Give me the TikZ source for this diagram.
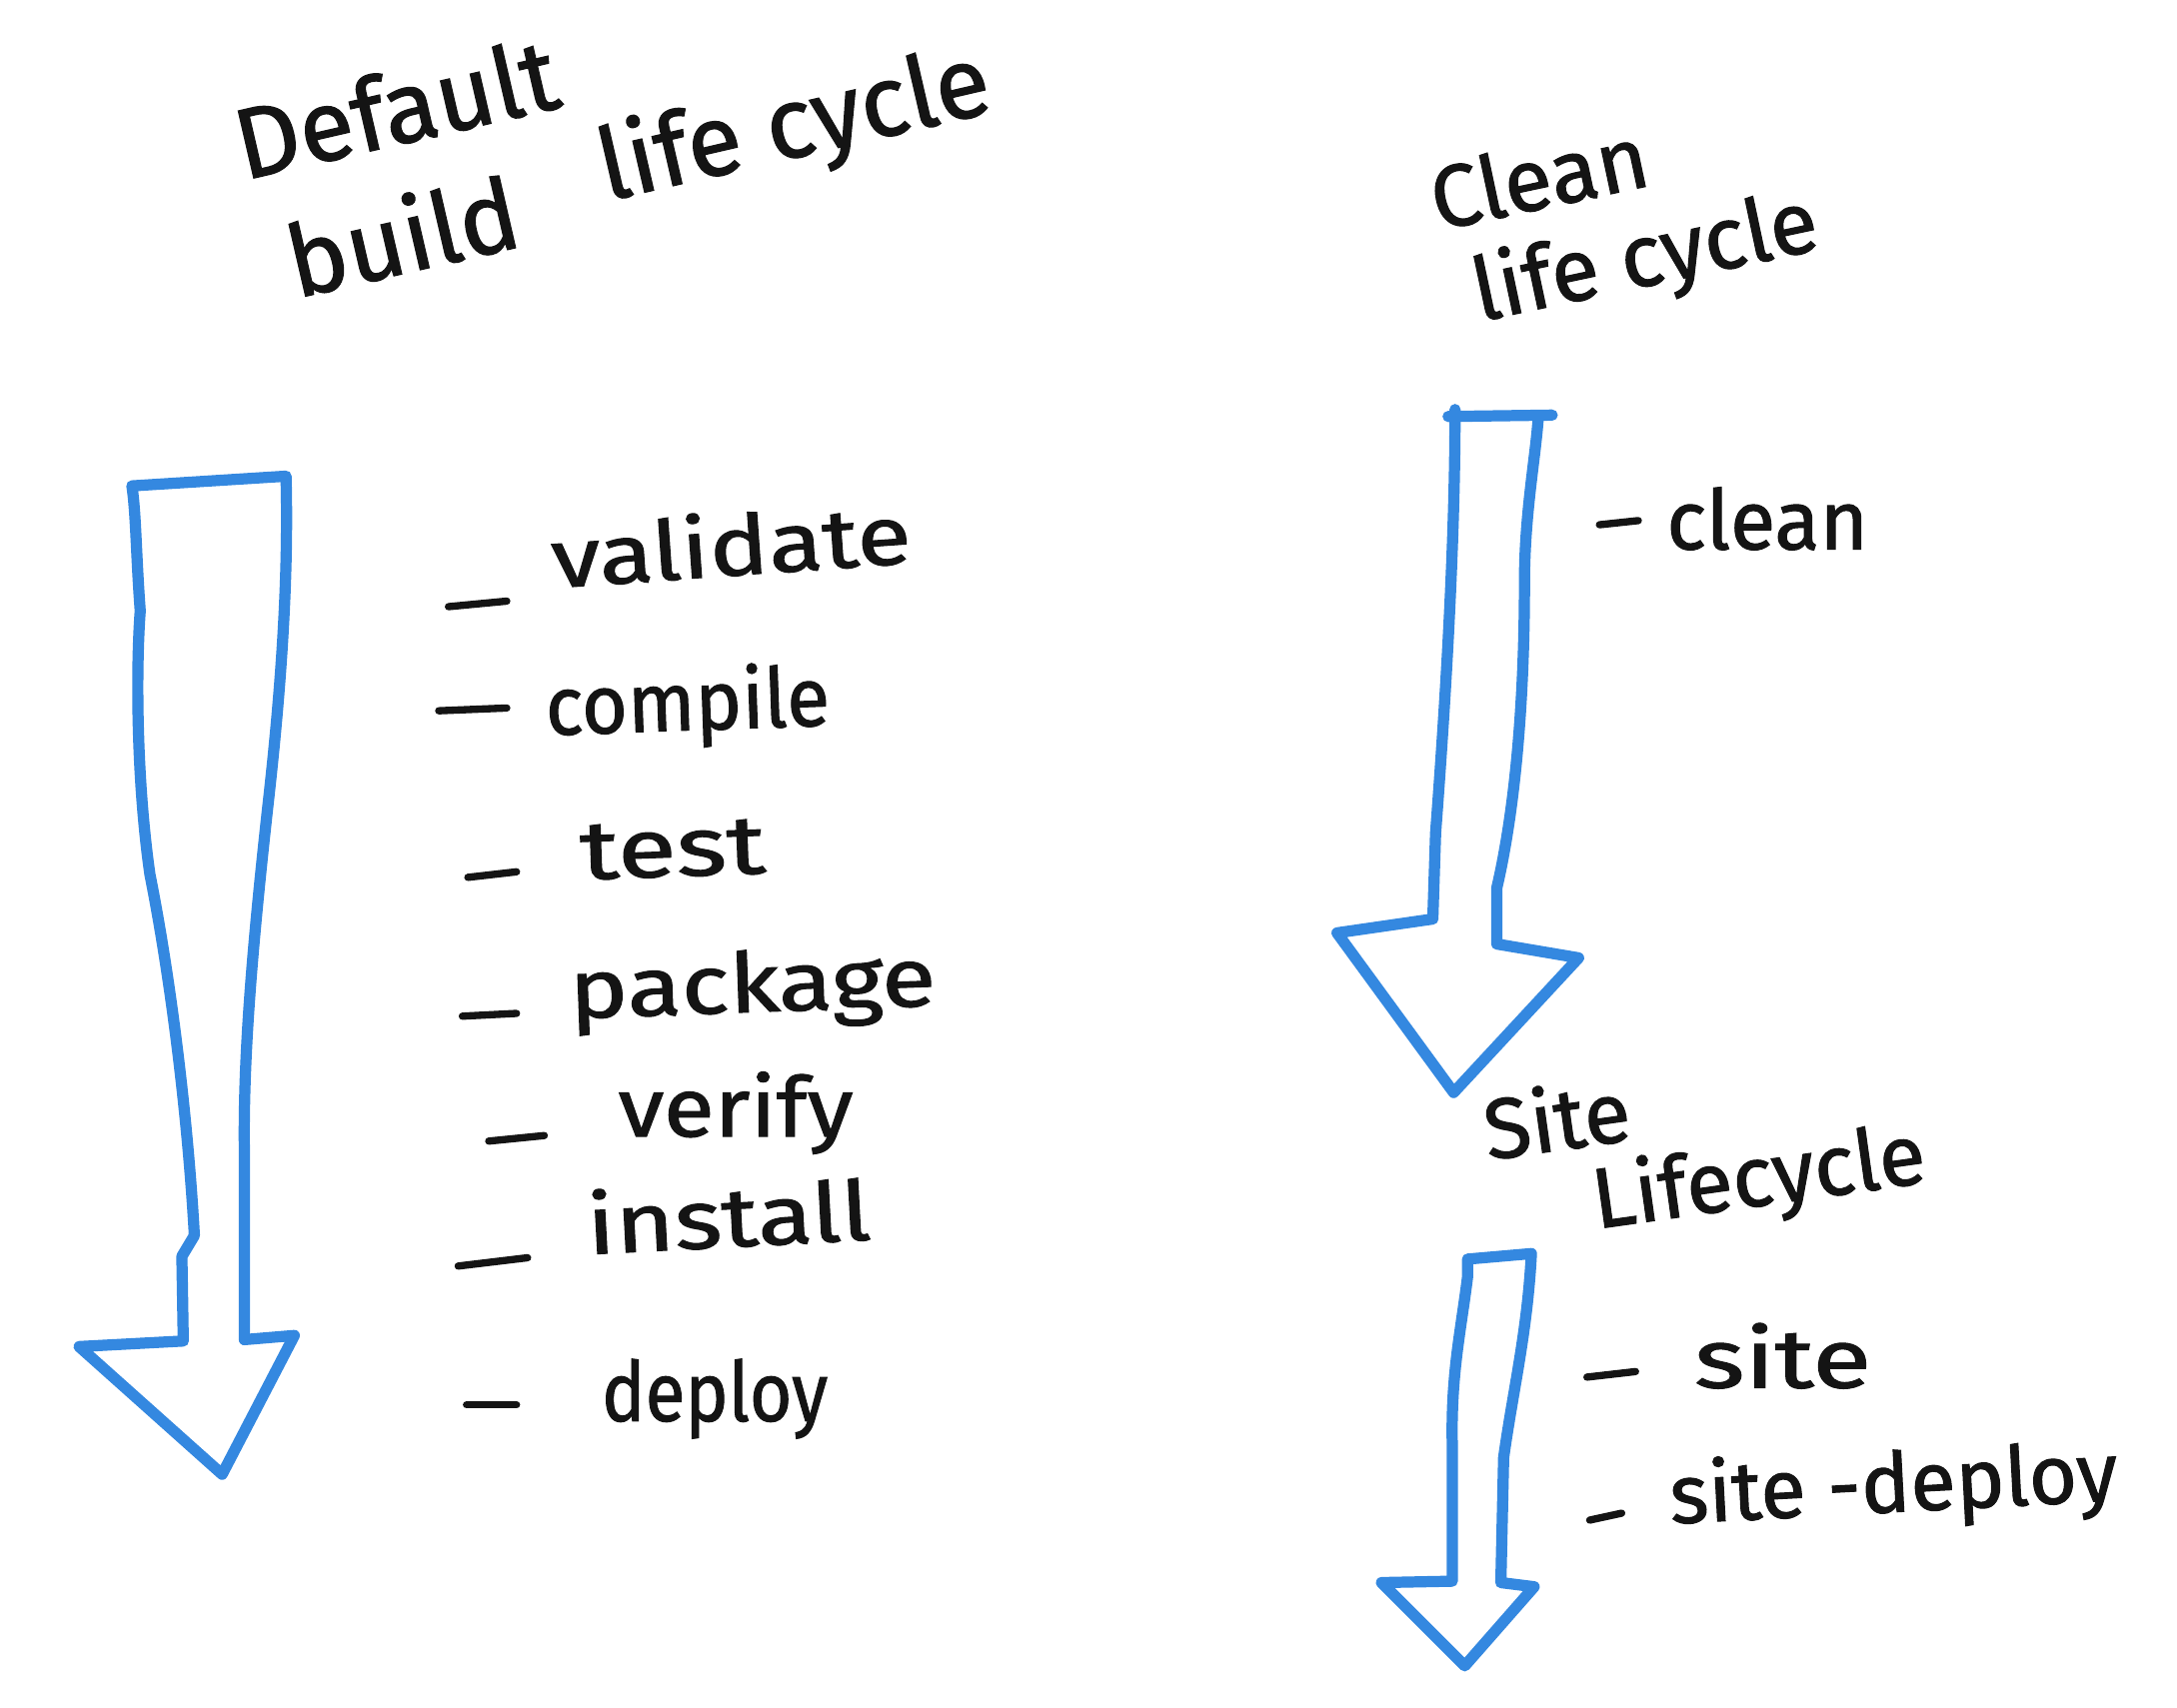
\documentclass[tikz,border=0pt]{standalone}
\usepackage{fontspec}
\usepackage{graphicx}
\setmainfont{Fira Sans}[FakeBold=1.2]
\definecolor{penblue}{RGB}{52,136,224}
\definecolor{ink}{RGB}{20,20,20}
\tikzset{
  arrowline/.style={draw=penblue, line width=4.6pt, line join=round, line cap=round},
  dashline/.style={draw=ink, line width=3pt, line cap=round},
  item/.style={anchor=mid west, inner sep=0pt, text=ink, font=\fontsize{34}{40}\selectfont},
  title/.style={anchor=base west, inner sep=0pt, text=ink, align=left},
}
\newcommand{\hx}[2]{\scalebox{#1}[1]{#2}}
\begin{document}
\begin{tikzpicture}[x=0.02cm, y=-0.02cm]
\useasboundingbox (0,0) rectangle (1568,1230);
\fill[white] (0,0) rectangle (1568,1230);

% ---------- titles (anchor = baseline of last line) ----------
\node[title, rotate=13, font=\fontsize{41}{52}\selectfont] (tDefault) at (196,219)
  {Default\\\hspace*{10pt}build\hspace{0.9em}\raisebox{0.25em}{life cycle}};
\node[title, rotate=12, font=\fontsize{36}{40}\selectfont] (tClean) at (1050,235)
  {Clean\\\hspace*{9pt}life cycle};
\node[title, rotate=8, font=\fontsize{35}{34}\selectfont] (tSite) at (1080,895)
  {Site\\\hspace*{40pt}Lifecycle};

% ---------- left (default) arrow ----------
\draw[arrowline] (95,350) -- (206,343)
  .. controls (208,420) and (202,500) .. (193,580)
  .. controls (182,680) and (175,760) .. (176,830)
  -- (176,965) -- (212,962) -- (160,1062) -- (57,970) -- (132,966)
  -- (131,905) -- (140,890)
  .. controls (135,800) and (122,700) .. (108,630)
  .. controls (98,560) and (98,480) .. (101,440)
  .. controls (98,400) and (98,370) .. (95,350);

% ---------- default lifecycle items ----------
\draw[dashline] (323,437) -- (365,433);
\node[item, rotate=4] (validate) at (398,419) {\hx{1.2}{validate}};
\draw[dashline] (316,512) -- (365,510);
\node[item, rotate=2] (compile) at (393,525) {\hx{0.95}{compile}};
\draw[dashline] (337,632) -- (372,628);
\node[item, rotate=2] (test) at (418,629) {\hx{1.3}{test}};
\draw[dashline] (333,732) -- (372,730);
\node[item, rotate=2] (package) at (410,729) {\hx{1.2}{package}};
\draw[dashline] (352,822) -- (392,818);
\node[item] (verify) at (445,814) {\hx{1.12}{verify}};
\draw[dashline] (330,912) -- (380,906);
\node[item, rotate=3] (install) at (423,899) {\hx{1.22}{install}};
\draw[dashline] (336,1012) -- (372,1012);
\node[item] (deploy) at (433,1019) {\hx{0.88}{deploy}};

% ---------- clean arrow ----------
\draw[arrowline] (1043,300) -- (1118,299);
\draw[arrowline] (1048,295)
  .. controls (1048,400) and (1040,520) .. (1034,600)
  -- (1032,662) -- (963,672) -- (1047,787) -- (1137,690) -- (1078,680)
  -- (1078,640)
  .. controls (1092,580) and (1098,500) .. (1098,420)
  .. controls (1098,370) and (1106,330) .. (1108,300);

\draw[dashline] (1152,378) -- (1180,375);
\node[item] (clean) at (1200,391) {clean};

% ---------- site arrow ----------
\draw[arrowline] (1057,920) -- (1057,907) -- (1103,903)
  .. controls (1100,960) and (1090,1000) .. (1083,1050)
  -- (1081,1140) -- (1105,1143) -- (1055,1200) -- (995,1140) -- (1046,1139)
  -- (1046,1040)
  .. controls (1045,990) and (1052,960) .. (1057,920);

\draw[dashline] (1143,992) -- (1178,988);
\node[item] (site) at (1220,995) {\hx{1.3}{site}};
\draw[dashline] (1145,1095) -- (1168,1090);
\node[item, rotate=3] (sitedeploy) at (1203,1093) {site -deploy};
\end{tikzpicture}
\end{document}
